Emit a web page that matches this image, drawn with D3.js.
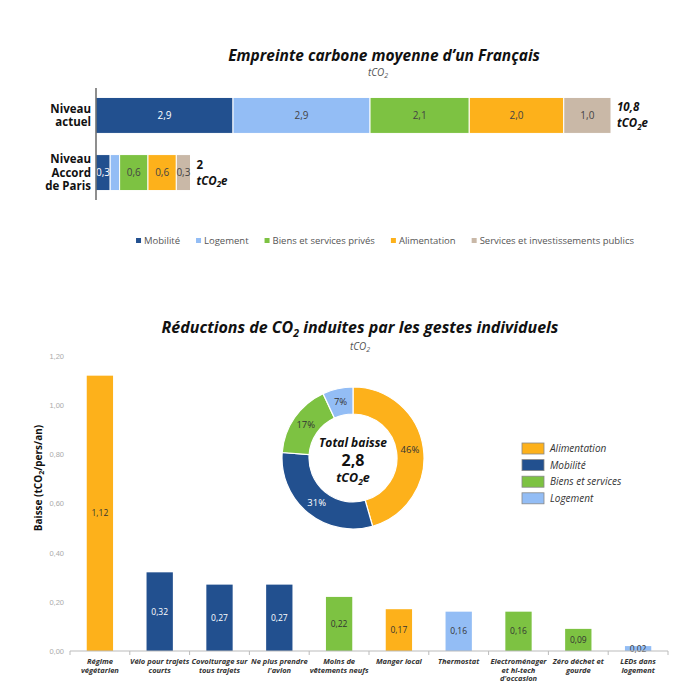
<!DOCTYPE html>
<html>
<head>
<meta charset="utf-8">
<script src="https://cdn.jsdelivr.net/npm/d3@7"></script>
<style>
  body { margin: 0; background: #fff; }
  svg { display: block; font-family: "Open Sans", "DejaVu Sans", sans-serif; }
</style>
</head>
<body>
<script>
// ==== DATA ====================================================
// top chart : empreinte carbone
var sectors = ["Mobilité", "Logement", "Biens et services privés", "Alimentation", "Services et investissements publics"];
var levels = ["Niveau actuel", "Niveau Accord de Paris"];
var actuelValues = [2.9, 2.9, 2.1, 2.0, 1.0];
var parisValues = [0.3, 0.2, 0.6, 0.6, 0.3];
var totals = ["10,8", "2"];

// bottom chart : gestes individuels
var gestes = ["Régime végétarien", "Vélo pour trajets courts", "Covoiturage sur tous trajets", "Ne plus prendre l'avion",
  "Moins de vêtements neufs", "Manger local", "Thermostat", "Electroménager et hi-tech d'occasion",
  "Zéro déchet et gourde", "LEDs dans logement"];
var gesteLines = [["Régime", "végétarien"], ["Vélo pour trajets", "courts"], ["Covoiturage sur", "tous trajets"],
  ["Ne plus prendre", "l'avion"], ["Moins de", "vêtements neufs"], ["Manger local"], ["Thermostat"],
  ["Electroménager", "et hi-tech", "d'occasion"], ["Zéro déchet et", "gourde"], ["LEDs dans", "logement"]];
var gesteValues = [1.12, 0.32, 0.27, 0.27, 0.22, 0.17, 0.16, 0.16, 0.09, 0.02];
var gesteCats = ["Alimentation", "Mobilité", "Mobilité", "Mobilité", "Biens et services", "Alimentation",
  "Logement", "Biens et services", "Biens et services", "Logement"];
var yTicks = [0, 0.2, 0.4, 0.6, 0.8, 1.0, 1.2];

// donut
var donutCats = ["Alimentation", "Mobilité", "Biens et services", "Logement"];
var donutPct = [46, 31, 17, 7];
var totalBaisse = "2,8";

// ==== COLORS ====
var colTop = d3.scaleOrdinal(sectors, ["#22508f", "#93bdf5", "#7dc242", "#fdb11b", "#c9b8a7"]);
var colBot = d3.scaleOrdinal(["Alimentation", "Mobilité", "Biens et services", "Logement"],
  ["#fdb11b", "#22508f", "#7dc242", "#93bdf5"]);
var darkText = "#333";

var fmt = function(v, n) { return v.toFixed(n).replace(".", ","); };

var width = 700, height = 700;
var svg = d3.select("body").append("svg").attr("width", width).attr("height", height);

// helper : text with a subscripted "2" after CO
function co2Text(sel, before, after, subSize) {
  var shift = subSize * 0.35;
  sel.append("tspan").text(before + "CO");
  sel.append("tspan").attr("dy", shift).attr("font-size", subSize).text("2");
  sel.append("tspan").attr("dy", -shift).text(after || "");
}

// ==== TOP CHART ==============================================
svg.append("text").attr("x", 384).attr("y", 61).attr("text-anchor", "middle")
  .attr("font-size", 15.5).attr("font-weight", "bold").attr("font-style", "italic").attr("fill", "#111")
  .text("Empreinte carbone moyenne d’un Français");
co2Text(svg.append("text").attr("x", 378).attr("y", 76).attr("text-anchor", "middle")
  .attr("font-size", 10).attr("font-style", "italic").attr("fill", "#555"), "t", "", 7);

var xTop = d3.scaleLinear().domain([0, 10.9]).range([96, 611]);
var yTop = d3.scaleBand().domain(levels).range([86, 202]).paddingInner(0.37).paddingOuter(0.2);

var stacked = [actuelValues, parisValues].map(function(vals) {
  var acc = 0;
  return vals.map(function(v, i) { var s = { key: sectors[i], v: v, x0: acc, x1: acc + v }; acc += v; return s; });
});

var rows = svg.selectAll(".row").data(stacked).enter().append("g")
  .attr("transform", function(d, i) { return "translate(0," + yTop(levels[i]) + ")"; });

rows.selectAll("rect").data(function(d) { return d; }).enter().append("rect")
  .attr("x", function(d) { return xTop(d.x0); })
  .attr("width", function(d) { return xTop(d.x1) - xTop(d.x0); })
  .attr("height", yTop.bandwidth())
  .attr("fill", function(d) { return colTop(d.key); })
  .attr("stroke", "#fff").attr("stroke-width", 1);

rows.selectAll("text.val").data(function(d) { return d; }).enter()
  .filter(function(d) { return d.key !== "Logement" || d.v > 1; })
  .append("text").attr("class", "val")
  .attr("x", function(d) { return (xTop(d.x0) + xTop(d.x1)) / 2; })
  .attr("y", yTop.bandwidth() / 2 + 3.5)
  .attr("text-anchor", "middle").attr("font-size", 10)
  .attr("fill", function(d) { return d.key === "Mobilité" ? "#fff" : "#444"; })
  .text(function(d) { return fmt(d.v, 1); });

svg.append("line").attr("x1", 96).attr("x2", 96).attr("y1", 88).attr("y2", 200)
  .attr("stroke", "#444").attr("stroke-width", 1.2);

var levelLines = [["Niveau", "actuel"], ["Niveau", "Accord", "de Paris"]];
levelLines.forEach(function(lines, i) {
  var cy = yTop(levels[i]) + yTop.bandwidth() / 2;
  var t = svg.append("text").attr("text-anchor", "end").attr("font-size", 11.5).attr("font-weight", "bold").attr("fill", "#111");
  lines.forEach(function(l, j) {
    t.append("tspan").attr("x", 91).attr("y", cy + 4 + (j - (lines.length - 1) / 2) * 13.5).text(l);
  });
});

stacked.forEach(function(s, i) {
  var end = xTop(s[s.length - 1].x1) + 6;
  var cy = yTop(levels[i]) + yTop.bandwidth() / 2;
  var italic = i === 0 ? "italic" : "normal";
  svg.append("text").attr("x", end).attr("y", cy - 4).attr("font-size", 11.5).attr("font-weight", "bold")
    .attr("font-style", italic).attr("fill", "#111").text(totals[i]);
  var t2 = svg.append("text").attr("x", end).attr("y", cy + 12).attr("font-size", 11.5).attr("font-weight", "bold")
    .attr("font-style", "italic").attr("fill", "#111");
  co2Text(t2, "t", "e", 8);
});

// top legend
var legTop = svg.append("g");
var lx = 0;
sectors.forEach(function(s) {
  var g = legTop.append("g").attr("transform", "translate(" + lx + ",0)");
  g.append("rect").attr("x", 0).attr("y", -4).attr("width", 5).attr("height", 5).attr("fill", colTop(s));
  var t = g.append("text").attr("x", 8).attr("y", 1.5).attr("font-size", 9.5).attr("fill", "#555").text(s);
  lx += 8 + t.node().getComputedTextLength() + 16;
});
lx -= 16;
legTop.attr("transform", "translate(" + (385 - lx / 2) + ",242)");

// ==== BOTTOM CHART ===========================================
var bt = svg.append("text").attr("x", 360).attr("y", 333).attr("text-anchor", "middle")
  .attr("font-size", 16).attr("font-weight", "bold").attr("font-style", "italic").attr("fill", "#111");
co2Text(bt, "Réductions de ", " induites par les gestes individuels", 10.5);
co2Text(svg.append("text").attr("x", 360).attr("y", 350).attr("text-anchor", "middle")
  .attr("font-size", 10).attr("font-style", "italic").attr("fill", "#555"), "t", "", 7);

var x = d3.scaleBand().domain(gestes).range([70, 668]).paddingInner(0.56).paddingOuter(0.28);
var y = d3.scaleLinear().domain([0, 1.2]).range([651, 356]);

var yAxis = svg.append("g").attr("transform", "translate(66,0)")
  .call(d3.axisLeft(y).tickValues(yTicks).tickSize(0).tickPadding(2).tickFormat(function(d) { return fmt(d, 2); }));
yAxis.select(".domain").remove();
yAxis.selectAll("text").attr("font-size", 7.5).attr("fill", "#aaa").attr("font-family", "inherit");

var yt = svg.append("text").attr("transform", "translate(42,478) rotate(-90)").attr("text-anchor", "middle")
  .attr("font-size", 10).attr("font-weight", "bold").attr("fill", "#111");
co2Text(yt, "Baisse (t", "/pers/an)", 7);

svg.selectAll(".bar").data(gesteValues).enter().append("rect").attr("class", "bar")
  .attr("x", function(d, i) { return x(gestes[i]); })
  .attr("y", function(d) { return y(d); })
  .attr("width", x.bandwidth())
  .attr("height", function(d) { return y(0) - y(d); })
  .attr("fill", function(d, i) { return colBot(gesteCats[i]); });

svg.selectAll(".barval").data(gesteValues).enter().append("text").attr("class", "barval")
  .attr("x", function(d, i) { return x(gestes[i]) + x.bandwidth() / 2; })
  .attr("y", function(d) { return (y(d) + y(0)) / 2 + 3; })
  .attr("text-anchor", "middle").attr("font-size", 8.5)
  .attr("fill", function(d, i) { return gesteCats[i] === "Mobilité" ? "#fff" : darkText; })
  .text(function(d) { return fmt(d, 2); });

// x axis : line with ticks at category boundaries
var xAxis = svg.append("g").attr("transform", "translate(0," + y(0) + ")");
xAxis.append("line").attr("x1", 70).attr("x2", 668).attr("stroke", "#bbb");
xAxis.selectAll(".tk").data(d3.range(gestes.length + 1)).enter().append("line")
  .attr("x1", function(i) { return 70 + i * x.step(); })
  .attr("x2", function(i) { return 70 + i * x.step(); })
  .attr("y1", 0).attr("y2", 4).attr("stroke", "#bbb");

gesteLines.forEach(function(lines, i) {
  var t = svg.append("text").attr("text-anchor", "middle").attr("font-size", 7.5).attr("font-weight", "bold")
    .attr("font-style", "italic").attr("fill", "#333");
  lines.forEach(function(l, j) {
    t.append("tspan").attr("x", x(gestes[i]) + x.bandwidth() / 2).attr("y", 664 + j * 8.5).text(l);
  });
});

// donut
var cx = 353, cy = 458, rOut = 71, rIn = 44;
var pie = d3.pie().sort(null).value(function(d) { return d; });
var arc = d3.arc().innerRadius(rIn).outerRadius(rOut);
var dg = svg.append("g").attr("transform", "translate(" + cx + "," + cy + ")");
var arcs = pie(donutPct);
dg.selectAll("path").data(arcs).enter().append("path")
  .attr("d", arc).attr("fill", function(d, i) { return colBot(donutCats[i]); })
  .attr("stroke", "#fff").attr("stroke-width", 1.2);
dg.selectAll(".pct").data(arcs).enter().append("text")
  .attr("transform", function(d) { return "translate(" + arc.centroid(d) + ")"; })
  .attr("dy", 3).attr("text-anchor", "middle").attr("font-size", 9.5)
  .attr("fill", function(d, i) { return donutCats[i] === "Mobilité" ? "#fff" : darkText; })
  .text(function(d) { return d.data + "%"; });

dg.append("text").attr("y", -11).attr("text-anchor", "middle").attr("font-size", 12).attr("font-weight", "bold")
  .attr("font-style", "italic").attr("fill", "#111").text("Total baisse");
dg.append("text").attr("y", 8).attr("text-anchor", "middle").attr("font-size", 16).attr("font-weight", "bold")
  .attr("fill", "#111").text(totalBaisse);
co2Text(dg.append("text").attr("y", 24).attr("text-anchor", "middle").attr("font-size", 12.5).attr("font-weight", "bold")
  .attr("font-style", "italic").attr("fill", "#111"), "t", "e", 8.5);

// donut legend
var leg = svg.append("g").attr("transform", "translate(522,443)");
donutCats.forEach(function(c, i) {
  var g = leg.append("g").attr("transform", "translate(0," + i * 16.6 + ")");
  g.append("rect").attr("width", 22).attr("height", 11).attr("fill", colBot(c)).attr("stroke", "#888").attr("stroke-width", 0.8);
  g.append("text").attr("x", 28).attr("y", 9).attr("font-size", 10).attr("font-style", "italic").attr("fill", "#333").text(c);
});
</script>
</body>
</html>
